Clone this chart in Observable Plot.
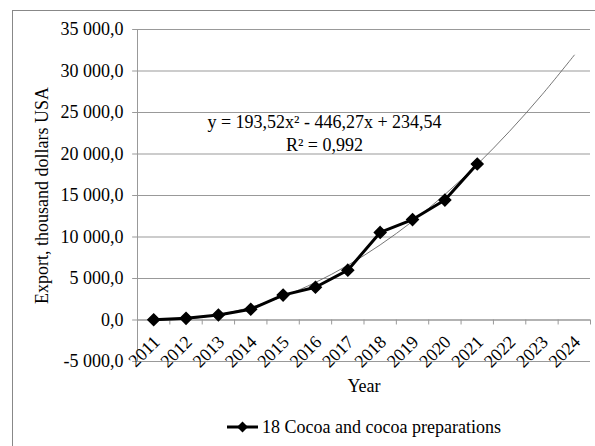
<!DOCTYPE html>
<html>
<head>
<meta charset="utf-8">
<script src="https://cdn.jsdelivr.net/npm/d3@7"></script>
<script src="https://cdn.jsdelivr.net/npm/@observablehq/plot@0.6"></script>
<style>
  html, body { margin: 0; padding: 0; background: #fff; }
  #wrap { position: relative; width: 595px; height: 446px; overflow: hidden; background: #fff; font-family: "Liberation Serif", "Times New Roman", serif; }
  #frame { position: absolute; left: 12px; top: 10px; width: 620px; height: 460px; border-top: 1px solid #888; border-left: 1px solid #888; }
  #chart { position: absolute; left: 0; top: 0; }
  #chart svg text { font-family: "Liberation Serif", "Times New Roman", serif; }
  #legend { position: absolute; left: 227px; top: 416px; font-size: 18px; line-height: 22px; color: #000; display: flex; align-items: center; white-space: nowrap; }
  #legend svg { margin-right: 4px; }
</style>
</head>
<body>
<div id="wrap">
  <div id="frame"></div>
  <div id="chart"></div>
  <div id="legend"><svg width="31" height="14"><line x1="0" y1="7" x2="31" y2="7" stroke="#000" stroke-width="3"/><path d="M15.5,1.5L21,7L15.5,12.5L10,7Z" fill="#000"/></svg><span>18 Cocoa and cocoa preparations</span></div>
</div>
<script>
// Data
const years = [2011, 2012, 2013, 2014, 2015, 2016, 2017, 2018, 2019, 2020, 2021];
const exportValues = [30, 200, 600, 1300, 3000, 3950, 6000, 10550, 12100, 14450, 18800];
const axisYears = [2011, 2012, 2013, 2014, 2015, 2016, 2017, 2018, 2019, 2020, 2021, 2022, 2023, 2024];
// polynomial trend (as labelled on the chart) evaluated at each period 1..14
const trendValues = [-18.2, 116.1, 637.4, 1545.8, 2841.2, 4523.6, 6593.1, 9049.7, 11893.2, 15123.8, 18741.5, 22746.2, 27137.9, 31916.7];
const yTicks = [-5000, 0, 5000, 10000, 15000, 20000, 25000, 30000, 35000];
const equationText = "y = 193,52x² - 446,27x + 234,54";
const r2Text = "R² = 0,992";
const xLabel = "Year";
const yLabel = "Export, thousand dollars USA";

const series = years.map((y, i) => ({year: y, value: exportValues[i]}));
const trend = axisYears.map((y, i) => ({year: y, value: trendValues[i]}));
const bounds = [axisYears[0] - 0.5, ...axisYears.map(y => y + 0.5)];
const x0 = bounds[0];

const loc = d3.formatLocale({decimal: ",", thousands: "\u00a0", grouping: [3], currency: ["", ""], minus: "-"});
const fmt = loc.format(",.1f");
const FF = "'Liberation Serif', 'Times New Roman', serif";

const plot = Plot.plot({
  width: 595,
  height: 446,
  marginLeft: 137,
  marginRight: 5,
  marginTop: 29,
  marginBottom: 85,
  style: {fontFamily: FF, fontSize: "18px", background: "transparent", color: "#000"},
  x: {type: "linear", domain: [x0, axisYears[axisYears.length - 1] + 0.5], axis: null},
  y: {type: "linear", domain: [-5000, 35000], axis: null},
  marks: [
    Plot.ruleY(yTicks, {y: d => d, stroke: "#999", strokeWidth: 1}),
    Plot.ruleX([x0], {x: d => d, stroke: "#999", strokeWidth: 1}),
    // y ticks
    Plot.ruleY(yTicks, {y: d => d, x1: () => x0 - 0.15, x2: () => x0, stroke: "#999"}),
    Plot.text(yTicks, {x: () => x0, y: d => d, text: d => fmt(d), textAnchor: "end", dx: -14, fontSize: 18, fontFamily: FF}),
    Plot.text([yLabel], {x: () => x0, y: () => 15000, text: d => d, rotate: -90, dx: -95, fontSize: 18, fontFamily: FF}),
    // x axis at zero with ticks at category boundaries
    Plot.ruleY([0], {y: d => d, stroke: "#999", strokeWidth: 1}),
    Plot.ruleX(bounds, {x: d => d, y1: () => 0, y2: () => -600, stroke: "#999"}),
    Plot.text(axisYears, {x: d => d, y: () => 0, text: d => String(d), rotate: -45, textAnchor: "end", dx: 3, dy: 19, fontSize: 18, fontFamily: FF}),
    Plot.text([xLabel], {frameAnchor: "bottom", text: d => d, dy: 30, fontSize: 18, fontFamily: FF}),
    // trend line
    Plot.line(trend, {x: "year", y: "value", curve: "catmull-rom", stroke: "#666", strokeWidth: 0.9}),
    // data
    Plot.line(series, {x: "year", y: "value", stroke: "#000", strokeWidth: 3}),
    Plot.dot(series, {x: "year", y: "value", symbol: "diamond2", r: 5.2, fill: "#000", stroke: "#000"}),
    // equation label
    Plot.text([equationText], {frameAnchor: "top-left", text: d => d, textAnchor: "middle", dx: 187, dy: 86, fontSize: 18, fontFamily: FF}),
    Plot.text([r2Text], {frameAnchor: "top-left", text: d => d, textAnchor: "middle", dx: 187, dy: 109, fontSize: 18, fontFamily: FF})
  ]
});
document.getElementById("chart").appendChild(plot);
</script>
</body>
</html>
